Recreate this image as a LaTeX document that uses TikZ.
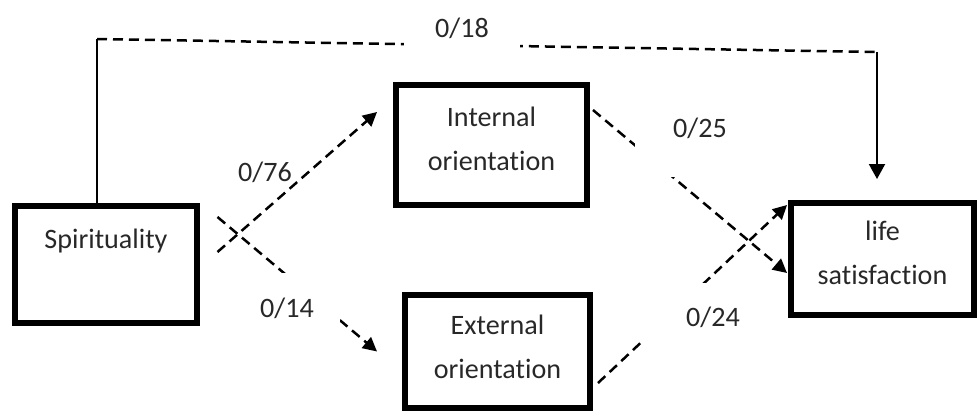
\documentclass[tikz,border=0pt]{standalone}
\usepackage{fontspec}
\setmainfont{Carlito}[Ligatures=NoCommon]
\usetikzlibrary{arrows.meta, calc}
\definecolor{textcolor}{RGB}{40, 40, 40}

\begin{document}
\begin{tikzpicture}[
        x=0.02cm, y=-0.02cm,
        construct/.style={rectangle, draw=black, line width=0.12cm, align=center, text=textcolor, font=\fontsize{16}{25}\selectfont},
        coef/.style={text=textcolor, font=\fontsize{16}{25}\selectfont, inner sep=0pt},
        coefgap/.style={coef, fill=white},
        effect/.style={line width=0.05cm, dash pattern=on 0.2cm off 0.12cm, -{Triangle[length=0.28cm, width=0.28cm]}},
        link/.style={line width=0.04cm}
    ]
        \useasboundingbox (0,0) rectangle (977,413);

        % Constructs
        \node (spir) [construct, minimum width=3.66cm, minimum height=2.34cm, text height=0.4cm, text depth=1.06cm] at (106,264.5) {Spirituality};
        \node (intern) [construct, minimum width=3.82cm, minimum height=2.4cm, text depth=0.25cm] at (491.5,145) {Internal\\orientation};
        \node (extern) [construct, minimum width=3.7cm, minimum height=2.26cm, text depth=0.2cm] at (497.5,351.5) {External\\orientation};
        \node (life) [construct, minimum width=3.66cm, minimum height=2.24cm, text depth=0.25cm] at (882.5,259) {life\\satisfaction};

        % Direct effect
        \coordinate (turnA) at ($(spir.north)+(-9,-164)$);
        \coordinate (turnB) at ($(life.north)+(-5.5,-148)$);
        \draw[link] (turnA |- spir.north) -- (turnA);
        \draw[effect, -] (turnA) -- (turnB);
        \draw[link, -{Triangle[length=0.3cm, width=0.32cm]}, shorten >=0.42cm] (turnB) -- (turnB |- life.north);

        % Indirect effects
        \draw[effect] ($(spir.east)+(17,-12.5)$) -- ($(intern.west)+(-16,-33)$);
        \draw[effect] ($(spir.east)+(17,-47.5)$) -- ($(extern.west)+(-25,0)$);
        \draw[effect] ($(intern.east)+(3,-35)$) -- ($(life.west)+(-1,14)$);
        \draw[effect] ($(extern.east)+(5,31.5)$) -- ($(life.west)+(-1,-54)$);

        % Coefficients
        \node (c18) [coefgap, minimum width=2.34cm, minimum height=1cm] at (462,28) {0/18};
        \node (c76) [coef] at (265,172) {0/76};
        \node (c14) [coefgap, minimum width=2.12cm, minimum height=1.4cm] at (287,308) {0/14};
        \node (c25) [coefgap, minimum width=2.6cm, minimum height=1.96cm] at (700,128) {0/25};
        \node (c24) [coefgap, minimum width=2.84cm, minimum height=1.36cm] at (713,317) {0/24};
    \end{tikzpicture}
\end{document}
